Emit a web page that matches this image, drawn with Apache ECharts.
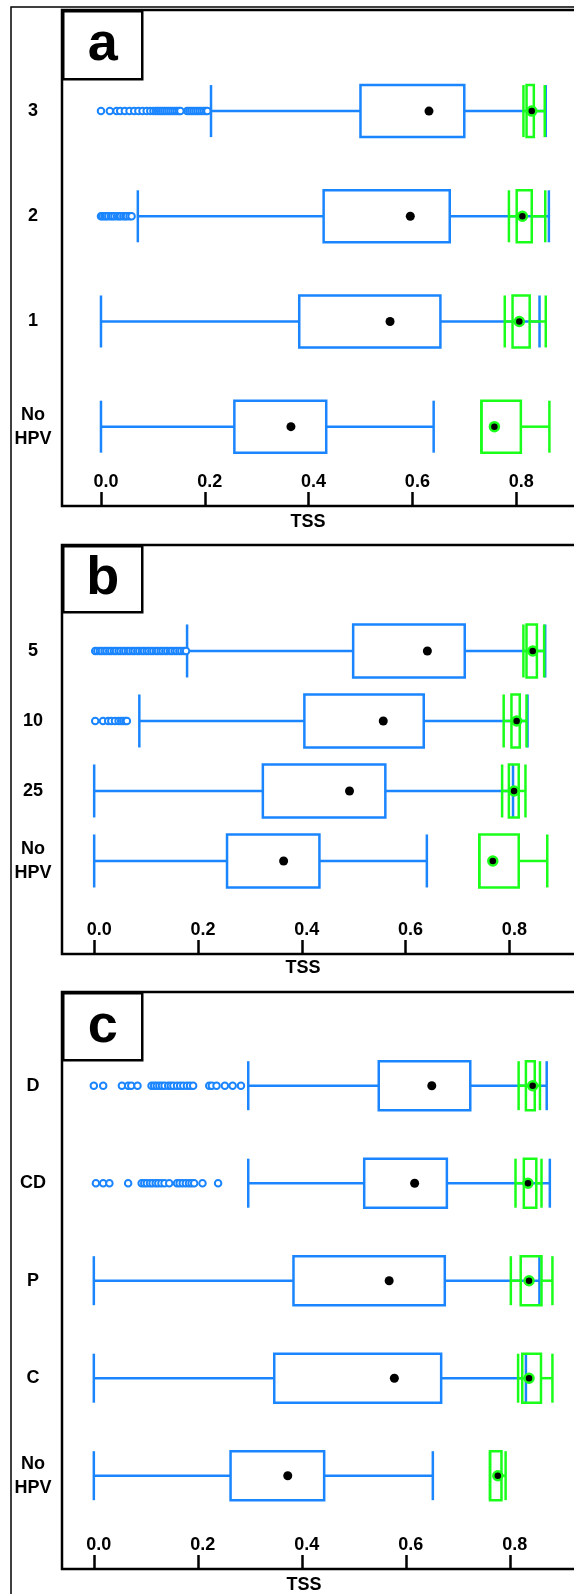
<!DOCTYPE html>
<html>
<head>
<meta charset="utf-8">
<script src="https://cdn.jsdelivr.net/npm/echarts@6/dist/echarts.min.js"></script>
<style>
  html, body { margin: 0; padding: 0; background: #fff; }
  #main { width: 574px; height: 1594px; }
</style>
</head>
<body>
<div id="main"></div>
<script>
// rows go bottom -> top; each box is [whiskerLow, q1, q3, whiskerHigh]
var catsA = ['No\nHPV', '1', '2', '3']
var blueA = [[0, 0.257, 0.434, 0.641], [0, 0.382, 0.654, 0.845], [0.071, 0.429, 0.672, 0.863], [0.212, 0.500, 0.700, 0.857]]
var blueMeanA = [0.366, 0.557, 0.596, 0.632]
var greenA = [[0.733, 0.733, 0.809, 0.864], [0.778, 0.793, 0.826, 0.857], [0.786, 0.801, 0.830, 0.856], [0.814, 0.820, 0.834, 0.855]]
var greenMeanA = [0.758, 0.806, 0.812, 0.830]
var outliersA = [
    [],
    [],
    [0.000, 0.003, 0.007, 0.010, 0.014, 0.019, 0.022, 0.026, 0.031, 0.035, 0.038, 0.043, 0.047, 0.050, 0.055, 0.059],
    [0.000, 0.017, 0.030, 0.037, 0.046, 0.055, 0.064, 0.072, 0.080, 0.088, 0.095, 0.101, 0.106, 0.110, 0.114, 0.118,
     0.122, 0.126, 0.130, 0.134, 0.138, 0.142, 0.146, 0.150, 0.153, 0.166, 0.170, 0.174, 0.178, 0.182, 0.186, 0.190,
     0.194, 0.198, 0.202, 0.205]
]

var catsB = ['No\nHPV', '25', '10', '5']
var blueB = [[0, 0.256, 0.434, 0.641], [0, 0.325, 0.561, 0.807], [0.087, 0.405, 0.635, 0.835], [0.179, 0.499, 0.714, 0.869]]
var blueMeanB = [0.365, 0.492, 0.557, 0.642]
var greenB = [[0.742, 0.742, 0.818, 0.873], [0.786, 0.799, 0.818, 0.831], [0.789, 0.804, 0.820, 0.833], [0.827, 0.833, 0.853, 0.867]]
var greenMeanB = [0.768, 0.809, 0.814, 0.845]
var outliersB = [
    [],
    [],
    [0.002, 0.017, 0.027, 0.033, 0.040, 0.047, 0.052, 0.056, 0.060, 0.063],
    [0.002, 0.006, 0.011, 0.015, 0.020, 0.024, 0.029, 0.033, 0.038, 0.042, 0.047, 0.051, 0.056, 0.060, 0.065, 0.069,
     0.074, 0.078, 0.083, 0.087, 0.092, 0.096, 0.101, 0.105, 0.110, 0.114, 0.119, 0.123, 0.128, 0.132, 0.137, 0.141,
     0.146, 0.150, 0.155, 0.159, 0.164, 0.168, 0.173, 0.177]
]

var catsC = ['No\nHPV', 'C', 'P', 'CD', 'D']
var blueC = [[0, 0.263, 0.443, 0.652], [0, 0.347, 0.668, 0.831], [0, 0.384, 0.675, 0.857], [0.297, 0.520, 0.679, 0.877], [0.297, 0.548, 0.724, 0.871]]
var blueMeanC = [0.373, 0.578, 0.568, 0.617, 0.650]
var greenC = [[0.762, 0.762, 0.784, 0.792], [0.816, 0.824, 0.860, 0.882], [0.802, 0.821, 0.861, 0.882], [0.811, 0.827, 0.851, 0.861], [0.817, 0.831, 0.848, 0.858]]
var greenMeanC = [0.777, 0.837, 0.837, 0.835, 0.844]
var outliersC = [
    [],
    [],
    [],
    [0.004, 0.018, 0.030, 0.066, 0.092, 0.097, 0.102, 0.108, 0.113, 0.119, 0.124, 0.130, 0.136, 0.145, 0.160, 0.165,
     0.171, 0.177, 0.183, 0.188, 0.193, 0.209, 0.239],
    [0.000, 0.018, 0.054, 0.066, 0.072, 0.084, 0.111, 0.116, 0.121, 0.126, 0.131, 0.136, 0.143, 0.148, 0.153, 0.160,
     0.166, 0.172, 0.179, 0.185, 0.191, 0.222, 0.227, 0.236, 0.252, 0.267, 0.283]
]

var tickVals = [0, 0.2, 0.4, 0.6, 0.8]

var BLUE = '#1a85ff'
var GREEN = '#1aff1a'
var FONT = '"Liberation Sans", Arial, sans-serif'

var panels = [
    { cats: catsA, blue: blueA, blueMean: blueMeanA, green: greenA, greenMean: greenMeanA, out: outliersA,
      top: 10, height: 496, xMin: -0.0751, xMax: 0.9615, yMin: -0.754, yMax: 3.961, half: 26 },
    { cats: catsB, blue: blueB, blueMean: blueMeanB, green: greenB, greenMean: greenMeanB, out: outliersB,
      top: 545, height: 409, xMin: -0.0620, xMax: 0.9746, yMin: -1.329, yMax: 4.514, half: 26.5 },
    { cats: catsC, blue: blueC, blueMean: blueMeanC, green: greenC, greenMean: greenMeanC, out: outliersC,
      top: 992, height: 577, xMin: -0.0612, xMax: 0.9735, yMin: -0.957, yMax: 4.961, half: 24.5 }
]

function boxRender(color, half) {
    return function (params, api) {
        var row = api.value(0)
        var lo = api.coord([api.value(1), row])
        var q1 = api.coord([api.value(2), row])
        var q3 = api.coord([api.value(3), row])
        var hi = api.coord([api.value(4), row])
        var cy = lo[1]
        var st = { stroke: color, lineWidth: 2.5, fill: null }
        return {
            type: 'group',
            children: [
                { type: 'line', shape: { x1: lo[0], y1: cy, x2: q1[0], y2: cy }, style: st },
                { type: 'line', shape: { x1: q3[0], y1: cy, x2: hi[0], y2: cy }, style: st },
                { type: 'line', shape: { x1: lo[0], y1: cy - half, x2: lo[0], y2: cy + half }, style: st },
                { type: 'line', shape: { x1: hi[0], y1: cy - half, x2: hi[0], y2: cy + half }, style: st },
                { type: 'rect', shape: { x: q1[0], y: cy - half, width: q3[0] - q1[0], height: half * 2 }, style: st }
            ]
        }
    }
}

var grids = [], xAxes = [], yAxes = [], series = []

panels.forEach(function (p, i) {
    // plot area runs past the right edge of the page, like the cropped original
    grids.push({
        left: 62, width: 538, top: p.top, height: p.height,
        outerBoundsMode: 'none', containLabel: false,
        show: true, borderColor: '#000', borderWidth: 2.5, backgroundColor: 'transparent'
    })
    xAxes.push({
        type: 'value', gridIndex: i, min: p.xMin, max: p.xMax,
        axisLine: { show: false, onZero: false },
        splitLine: { show: false },
        axisTick: { show: true, inside: true, length: 14, customValues: tickVals, lineStyle: { color: '#000', width: 2.5 } },
        axisLabel: {
            inside: true, margin: 15, customValues: tickVals,
            formatter: function (v) { return v.toFixed(1) },
            color: '#000', fontSize: 18, fontWeight: 'bold', fontFamily: FONT, padding: [0, 0, 0, 10]
        }
    })
    yAxes.push({
        type: 'value', gridIndex: i, min: p.yMin, max: p.yMax,
        axisLine: { show: false, onZero: false }, axisTick: { show: false }, splitLine: { show: false },
        axisLabel: {
            customValues: p.cats.map(function (c, k) { return k }),
            formatter: function (v) { return p.cats[Math.round(v)] },
            align: 'center', margin: 29, lineHeight: 24,
            color: '#000', fontSize: 18, fontWeight: 'bold', fontFamily: FONT
        }
    })

    var blueData = p.blue.map(function (b, k) { return [k].concat(b) })
    var greenData = p.green.map(function (b, k) { return [k].concat(b) })
    var outData = []
    p.out.forEach(function (vals, k) {
        vals.forEach(function (v) { outData.push([v, k]) })
    })

    series.push({
        type: 'custom', xAxisIndex: i, yAxisIndex: i, z: 2,
        renderItem: boxRender(BLUE, p.half),
        encode: { x: [1, 2, 3, 4], y: 0 },
        data: blueData
    })
    series.push({
        type: 'scatter', xAxisIndex: i, yAxisIndex: i, z: 3,
        symbol: 'circle', symbolSize: 6.5,
        itemStyle: { color: '#fff', borderColor: BLUE, borderWidth: 2, opacity: 1 },
        data: outData
    })
    series.push({
        type: 'custom', xAxisIndex: i, yAxisIndex: i, z: 4,
        renderItem: boxRender(GREEN, p.half),
        encode: { x: [1, 2, 3, 4], y: 0 },
        data: greenData
    })
    series.push({
        type: 'scatter', xAxisIndex: i, yAxisIndex: i, z: 5,
        symbol: 'circle', symbolSize: 9,
        itemStyle: { color: '#000', opacity: 1 },
        data: p.blueMean.map(function (m, k) { return [m, k] })
    })
    series.push({
        type: 'scatter', xAxisIndex: i, yAxisIndex: i, z: 6,
        symbol: 'circle', symbolSize: 9,
        itemStyle: { color: '#000', borderColor: GREEN, borderWidth: 2.5, opacity: 1 },
        data: p.greenMean.map(function (m, k) { return [m, k] })
    })
})

function panelLabel(letter, top, h) {
    return {
        type: 'group', left: 62, top: top, z: 100,
        children: [
            { type: 'rect', shape: { x: 0, y: 0, width: 79, height: h }, style: { fill: '#fff', stroke: '#000', lineWidth: 2.5 } },
            { type: 'text', x: 39.5, y: h / 2, style: { text: letter, fill: '#000', font: 'bold 54px ' + FONT, align: 'center', verticalAlign: 'middle' } }
        ]
    }
}

function axisName(x, y) {
    return { type: 'text', x: x, y: y, z: 100, style: { text: 'TSS', fill: '#000', font: 'bold 18px ' + FONT, align: 'center', verticalAlign: 'middle' } }
}

var chart = echarts.init(document.getElementById('main'), null, { renderer: 'canvas' })
chart.setOption({
    animation: false,
    backgroundColor: '#fff',
    grid: grids,
    xAxis: xAxes,
    yAxis: yAxes,
    series: series,
    graphic: [
        { type: 'polyline', z: 100, shape: { points: [[11, 1594], [11, 7], [574, 7]] }, style: { stroke: '#000', lineWidth: 1.5, fill: null } },
        panelLabel('a', 10, 68),
        panelLabel('b', 545, 66),
        panelLabel('c', 992, 67),
        axisName(308, 522),
        axisName(303, 968),
        axisName(304, 1585)
    ]
})
</script>
</body>
</html>
